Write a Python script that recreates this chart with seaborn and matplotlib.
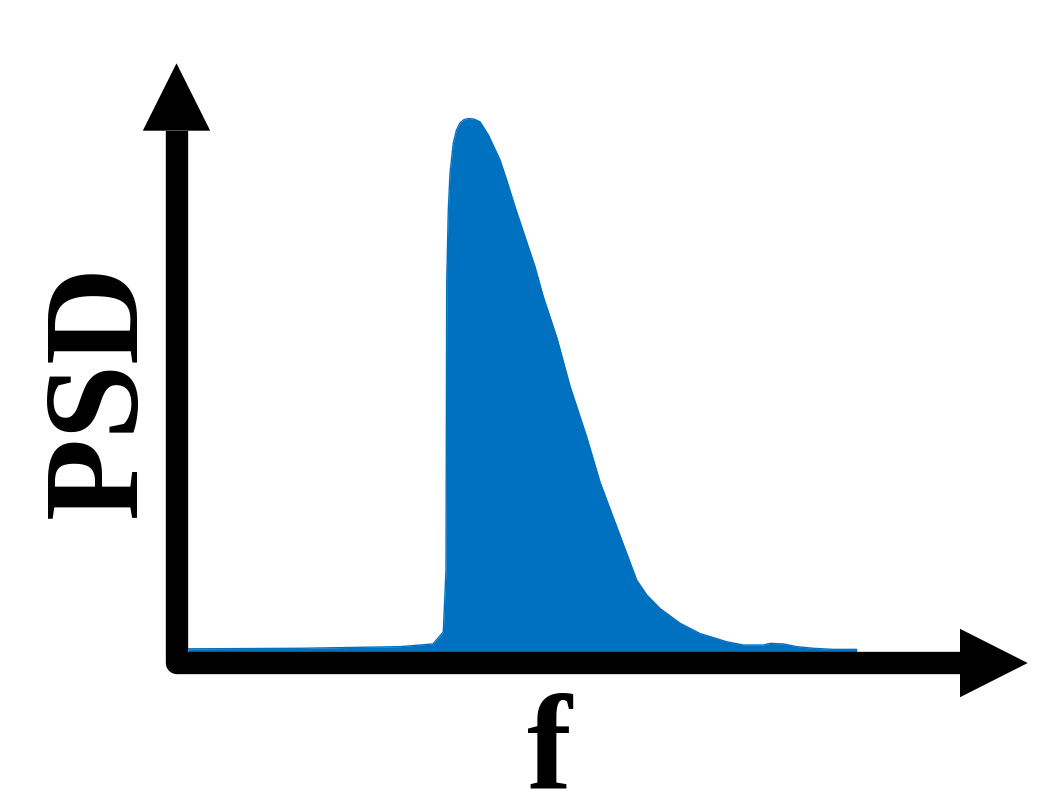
import numpy as np
import pandas as pd
import seaborn as sns
import matplotlib.pyplot as plt

# schematic PSD: normalised frequency vs normalised power
freq = [0.115, 1.235, 2.235, 2.565, 2.668, 2.695, 2.702, 2.702, 2.718, 2.735,
        2.768, 2.800, 2.835, 2.875, 2.918, 2.975, 3.035, 3.118, 3.235, 3.302,
        3.385, 3.485, 3.585, 3.668, 3.805, 3.935, 4.105, 4.235, 4.302, 4.402,
        4.502, 4.602, 4.702, 4.835, 5.035, 5.235, 5.502, 5.668, 5.868, 5.935,
        6.068, 6.202, 6.368, 6.568, 6.802]
psd = [0.026, 0.027, 0.030, 0.035, 0.057, 0.171, 0.666, 0.727, 0.831, 0.899,
       0.954, 0.978, 0.991, 0.997, 0.999, 0.998, 0.993, 0.969, 0.923, 0.886,
       0.837, 0.782, 0.727, 0.672, 0.596, 0.508, 0.413, 0.332, 0.299, 0.250,
       0.201, 0.152, 0.125, 0.100, 0.073, 0.054, 0.039, 0.033, 0.033, 0.036,
       0.035, 0.030, 0.027, 0.025, 0.025]
xlabel = "f"
ylabel = "PSD"

df = pd.DataFrame({"freq": freq, "psd": psd})
blue = "#0070C0"

sns.set_theme(style="white")
plt.rcParams["font.family"] = "serif"
plt.rcParams["font.serif"] = ["Liberation Serif", "Times New Roman", "DejaVu Serif"]

fig = plt.figure(figsize=(10.59, 8.07), dpi=100)
ax = fig.add_axes([0, 0, 1, 1])
ax.set_xlim(-1.765, 8.825)
ax.set_ylim(-0.2642, 1.2165)
ax.axis("off")

ax.fill_between(df["freq"], 0, df["psd"], color=blue, lw=0)
sns.lineplot(data=df, x="freq", y="psd", ax=ax, color=blue, lw=1, sort=False)

# axes drawn as thick arrows
lw = 16.1
ax.plot([0, 0, 7.835], [0.9767, 0, 0], color="black", lw=lw,
        solid_joinstyle="round", solid_capstyle="butt")
ax.fill([-0.337, 0.337, 0], [0.9767, 0.9767, 1.1004], color="black", lw=0)
ax.fill([7.835, 7.835, 8.512], [0.0628, -0.0628, 0], color="black", lw=0)

fig.text(136 / 1059, 1 - 391 / 807, ylabel, rotation=90, rotation_mode="anchor",
         ha="center", va="baseline", fontsize=97, fontweight="bold",
         color="black", family="Liberation Serif")
fig.text(549.7 / 1059, 1 - 787 / 807, xlabel, ha="center", va="baseline",
         fontsize=97, fontweight="bold", color="black", family="Liberation Serif")

fig.savefig("out.png", dpi=100)
